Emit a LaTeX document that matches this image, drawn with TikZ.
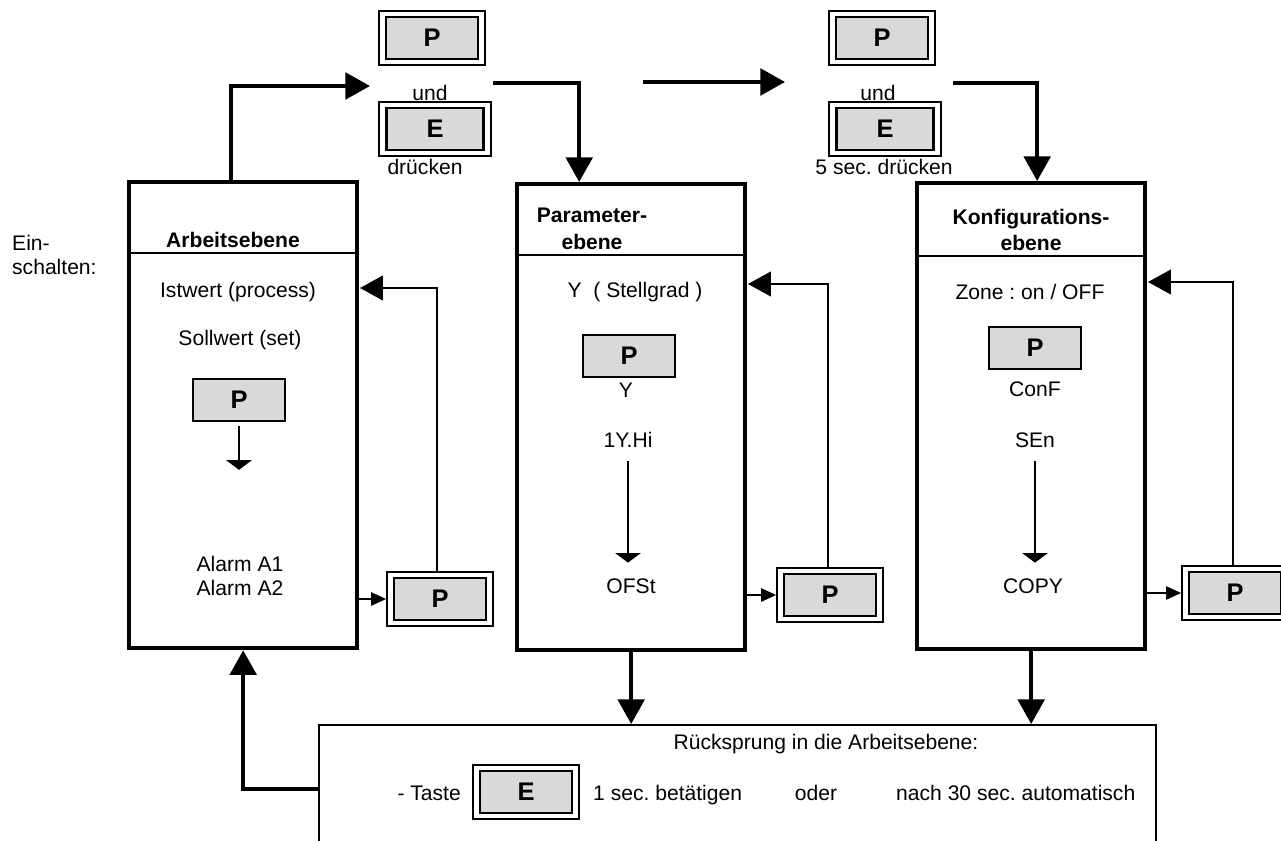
\documentclass[tikz,border=0pt]{standalone}
\usepackage{fontspec}
\setmainfont{Liberation Sans}
\usetikzlibrary{arrows.meta}
\frenchspacing

\begin{document}
\begin{tikzpicture}[x=0.02cm,y=-0.02cm,font=\fontsize{12}{14}\selectfont]
  \tikzset{ebene/.style={draw,line width=2.5pt,minimum width=4.56cm,minimum height=9.32cm,inner sep=0pt,anchor=north west}}
  \tikzset{taste/.style={draw,line width=1.5pt,fill=black!15,minimum width=1.84cm,minimum height=0.84cm,inner sep=0pt,font=\fontsize{14.5}{14}\selectfont\bfseries}}
  \tikzset{rahmen/.style={draw,line width=1pt,fill=white,minimum width=2.12cm,minimum height=1.08cm,inner sep=0pt}}
  \tikzset{titel/.style={align=center,font=\fontsize{12}{15}\selectfont\bfseries}}
  \tikzset{dick/.style={line width=2.4pt,-{Triangle[length=14pt,width=15pt]}}}
  \tikzset{zurueck/.style={line width=1pt,-{Triangle[length=13pt,width=14pt]}}}
  \tikzset{schritt/.style={line width=1pt,-{Triangle[length=5.5pt,width=14.5pt]}}}
  \tikzset{weiter/.style={line width=1pt,-{Triangle[length=8.5pt,width=7.5pt]}}}
  \useasboundingbox (0,0) rectangle (1281,841);
  \node[ebene] (arbeit) at (127,180) {};
  \node[ebene] (param) at (515,182) {};
  \node[ebene] (konfig) at (915,181) {};
  \draw[line width=0.9pt] (arbeit.west |- 0,253) -- (arbeit.east |- 0,253);
  \draw[line width=0.9pt] (param.west |- 0,255) -- (param.east |- 0,255);
  \draw[line width=0.9pt] (konfig.west |- 0,256) -- (konfig.east |- 0,256);
  \node[titel] (tarbeit) at (233,240) {Arbeitsebene};
  \node[titel] (tparam) at (592,229) {Parameter-\\ebene};
  \node[titel] (tkonfig) at (1031,230) {Konfigurations-\\ebene};
  \node[anchor=west,align=left] (ein) at (6,255) {Ein-\\schalten:};
  \node (ist) at (238,292) {Istwert (process)};
  \node (soll) at (240,340) {Sollwert (set)};
  \node[taste] (p1) at (239,400) {P};
  \node[align=center] (alarm) at (240,576) {Alarm A1\\Alarm A2};
  \node (stell) at (635,292) {Y\ \ ( Stellgrad )};
  \node[taste] (p2) at (629,356) {P};
  \node (y) at (626,390) {Y};
  \node (hi) at (628,440) {1Y.Hi};
  \node (ofst) at (631,586) {OFSt};
  \node (zone) at (1030,292) {Zone : on / OFF};
  \node[taste] (p3) at (1035,348) {P};
  \node (conf) at (1035,389) {ConF};
  \node (sen) at (1035,440) {SEn};
  \node (copy) at (1033,586) {COPY};
  \node[rahmen] (rp1) at (432,38) {};
  \node[taste] (tp1) at (rp1) {P};
  \node (und1) at (430,93) {und};
  \node[rahmen,minimum width=2.24cm] (re1) at (435,129) {};
  \node[taste,minimum width=1.94cm] (te1) at (re1) {E};
  \node (dr1) at (425,167) {drücken};
  \node[rahmen] (rp2) at (882,38) {};
  \node[taste] (tp2) at (rp2) {P};
  \node (und2) at (878,93) {und};
  \node[rahmen,minimum width=2.24cm] (re2) at (885,129) {};
  \node[taste,minimum width=1.94cm] (te2) at (re2) {E};
  \node (dr2) at (884,167) {5 sec. drücken};
  \node[rahmen] (rpa) at (440,599) {};
  \node[taste] (tpa) at (rpa) {P};
  \node[rahmen] (rpb) at (830,595) {};
  \node[taste] (tpb) at (rpb) {P};
  \node[rahmen] (rpc) at (1235,593) {};
  \node[taste] (tpc) at (rpc) {P};
  \node[draw,line width=1.1pt,anchor=north west,minimum width=16.74cm,minimum height=2.56cm,inner sep=0pt] (rueck) at (318,724) {};
  \node (rtitel) at (826,744) {Rücksprung in die Arbeitsebene:};
  \node[anchor=base east] (tastetxt) at (467,800) {- Taste};
  \node[rahmen] (rel) at (526,792) {};
  \node[taste] (tel) at (rel) {E};
  \node[anchor=base west] (sec1) at (587,800) {1 sec. betätigen};
  \node[anchor=base] (oder) at (816,800) {oder};
  \node[anchor=base west] (nach) at (890,800) {nach 30 sec. automatisch};
  \coordinate (zu1) at (370,86);
  \coordinate (ab1) at (493,83);
  \coordinate (m1) at (643,82);
  \coordinate (m2) at (785,82);
  \coordinate (ab2) at (953,83);
  \coordinate (r1) at (360,288);
  \coordinate (r2) at (748,284);
  \coordinate (r3) at (1148,282);
  \draw[dick] ([xshift=-0.25cm]arbeit.north) |- (zu1);
  \draw[dick] (ab1) -| ([xshift=-1.04cm]param.north);
  \draw[dick] (m1) -- (m2);
  \draw[dick] (ab2) -| ([xshift=0.12cm]konfig.north);
  \draw[zurueck] ([xshift=-0.06cm]rpa.north) |- (r1);
  \draw[zurueck] ([xshift=-0.04cm]rpb.north) |- (r2);
  \draw[zurueck] ([xshift=-0.04cm]rpc.north) |- (r3);
  \draw[weiter] (arbeit.east |- rpa.west) -- (rpa.west);
  \draw[weiter] (param.east |- rpb.west) -- (rpb.west);
  \draw[weiter] (konfig.east |- rpc.west) -- (rpc.west);
  \draw[schritt] ([yshift=-2pt]p1.south) -- ++(0,44);
  \draw[schritt,shorten <=4pt,shorten >=5.5pt] (hi.south) -- (hi.south |- ofst.north);
  \draw[schritt,shorten <=4pt,shorten >=5.5pt] (sen.south) -- (sen.south |- copy.north);
  \draw[dick] (param.south) -- (param.south |- rueck.north);
  \draw[dick] (konfig.south) -- (konfig.south |- rueck.north);
  \draw[dick] (rueck.west) -| (arbeit.south);
\end{tikzpicture}
\end{document}
